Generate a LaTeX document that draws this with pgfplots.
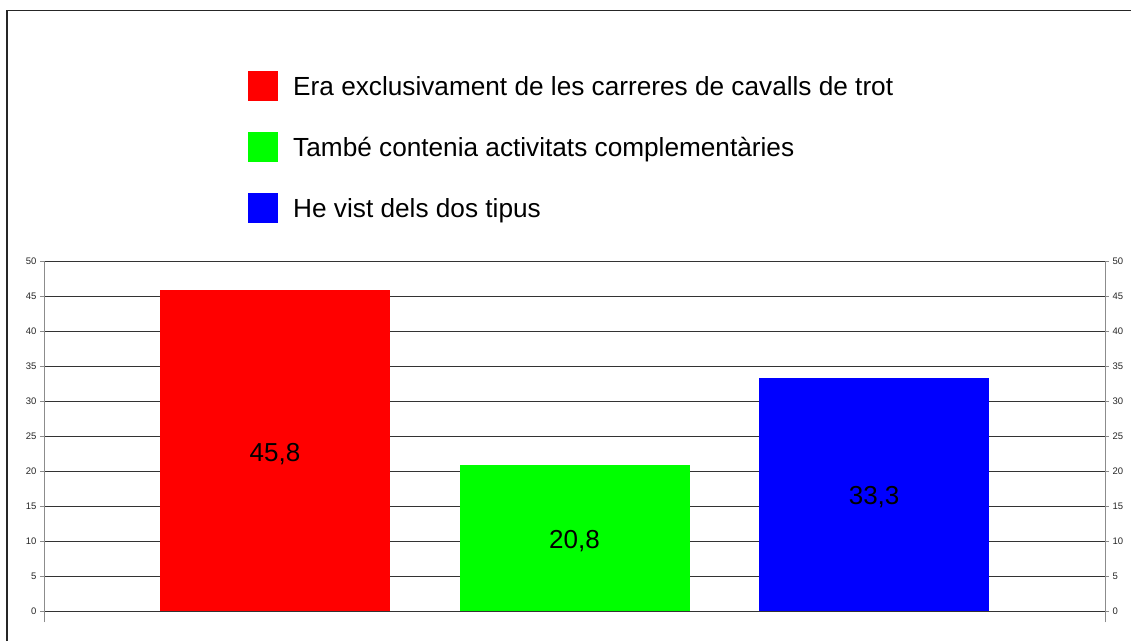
\documentclass[border=0pt]{standalone}
\usepackage{pgfplots}
\pgfplotsset{compat=1.18}
\usepackage{fontspec}
\setmainfont{Liberation Sans}
\definecolor{gridc}{HTML}{333333}
\definecolor{axisc}{HTML}{8C8C8C}
\pgfplotsset{swatch/.style={legend image code/.code={\fill[##1,draw=none] (0pt,-5.5pt) rectangle (30pt,24.5pt);}}}
\begin{document}
\begin{tikzpicture}
\path[use as bounding box] (0,0) rectangle (1131pt,641pt);
% outer frame, cut off at the right and bottom
\draw[black!85,line width=1.3pt] (7pt,0pt) -- (7pt,630.7pt) -- (1131pt,630.7pt);
\begin{axis}[
  at={(44pt,19pt)}, anchor=south west,
  scale only axis, width=1061pt, height=361pt,
  xmin=-0.771, xmax=2.771, ymin=-1.5714, ymax=50,
  axis x line=none,
  ytick={0,5,...,50}, ytick pos=left,
  tick align=outside, major tick length=4pt,
  tick style={axisc},
  axis line style={axisc,line width=1pt},
  ymajorgrids, grid style={gridc,line width=0.9pt},
  tick label style={font=\fontsize{9.5}{10}\selectfont,text=black!85},
  /pgf/number format/assume math mode=true,
  nodes near coords={\pgfmathprintnumber[use comma,fixed,fixed zerofill,precision=1]{\pgfplotspointmeta}},
  visualization depends on={rawy \as \rawy},
  nodes near coords style={anchor=center,font=\fontsize{26}{30}\selectfont,text=black,yshift={-3.5pt*\rawy-3pt}},
  legend style={at={(axis description cs:0.1923,1.5263)},anchor=north west,
    draw=none,fill=none,inner sep=0pt,row sep=31pt,column sep=15pt,
    font=\fontsize{26.2}{30}\selectfont,
    nodes={inner sep=0pt,text height=18pt,text depth=5pt,anchor=base west}},
  legend cell align=left,
]
\addplot[ybar,bar width=230pt,bar shift=0pt,fill=red,draw=none,swatch] coordinates {(0,45.8)};
\addlegendentry{Era exclusivament de les carreres de cavalls de trot}
\addplot[ybar,bar width=230pt,bar shift=0pt,fill=green,draw=none,swatch] coordinates {(1,20.8)};
\addlegendentry{També contenia activitats complementàries}
\addplot[ybar,bar width=230pt,bar shift=0pt,fill=blue,draw=none,swatch] coordinates {(2,33.3)};
\addlegendentry{He vist dels dos tipus}
\end{axis}
% right-hand scale
\begin{axis}[
  at={(44pt,19pt)}, anchor=south west,
  scale only axis, width=1061pt, height=361pt,
  xmin=-0.771, xmax=2.771, ymin=-1.5714, ymax=50,
  axis x line=none,
  ytick={0,5,...,50}, ytick pos=right, yticklabel pos=right,
  tick align=outside, major tick length=4pt,
  tick style={axisc},
  axis line style={axisc,line width=1pt},
  tick label style={font=\fontsize{9.5}{10}\selectfont,text=black!85},
  /pgf/number format/assume math mode=true,
]
\end{axis}
\end{tikzpicture}
\end{document}
